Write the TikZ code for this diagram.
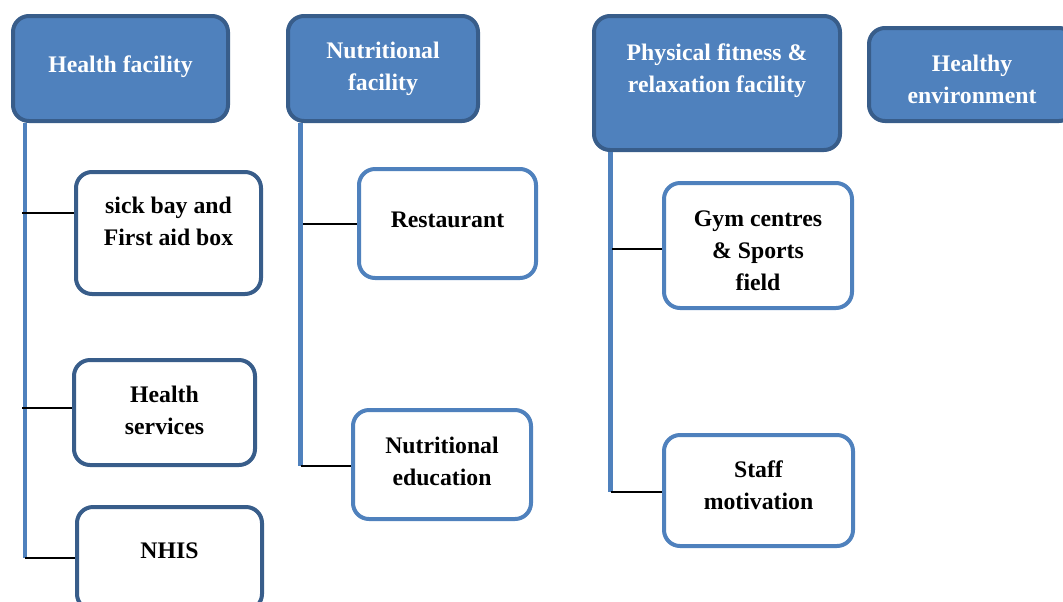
\documentclass[tikz,border=0pt]{standalone}
\usepackage{fontspec}
\setmainfont{Liberation Serif}
\definecolor{headfill}{HTML}{4F81BD}
\definecolor{headline}{HTML}{385D8A}
\tikzset{
  boxfont/.style={font=\bfseries\fontsize{17.8}{24}\selectfont},
  head/.style={boxfont, draw=headline, fill=headfill, line width=3pt, rounded corners=12pt,
    text=white, align=center, inner sep=0pt, text height=12pt, text depth=0pt},
  leaf/.style={boxfont, draw=headfill, fill=white, line width=3pt, rounded corners=12pt,
    align=center, inner sep=0pt, text height=12pt, text depth=0pt},
  darkleaf/.style={leaf, draw=headline},
  trunk/.style={draw=headfill, line width=3.6pt},
  twig/.style={draw=black, line width=1.1pt},
}
\begin{document}
\begin{tikzpicture}[x=0.75pt, y=-0.75pt]
    \useasboundingbox (0,0) rectangle (1063,601);
    \clip (0,0) rectangle (1063,601);

    % heading boxes
    \node[head, minimum width=161.25pt, minimum height=78.75pt, text depth=5.7pt] (health) at (120.5,68.5) {Health facility};
    \node[head, minimum width=142.5pt, minimum height=78.75pt, text height=32.25pt] (nutri) at (383,68.5) {Nutritional\\facility};
    \node[head, minimum width=184.5pt, minimum height=100.5pt, text height=13.5pt] (phys) at (717,83) {Physical fitness \&\\relaxation facility};
    \node[head, minimum width=154.5pt, minimum height=69.75pt, text height=42.75pt] (env) at (972,74.5) {Healthy\\environment};

    % items
    \node[darkleaf, minimum width=138.75pt, minimum height=91.5pt, text height=18.75pt] (sick) at (168.5,233) {sick bay and\\First aid box};
    \node[darkleaf, minimum width=135.75pt, minimum height=78.75pt, text height=32.25pt] (hserv) at (164.5,412.5) {Health\\services};
    \node[darkleaf, minimum width=138.75pt, minimum height=77.25pt, text depth=12.75pt] (nhis) at (169.5,558.5) {NHIS};
    \node[leaf, minimum width=132.75pt, minimum height=81.75pt, text depth=6.75pt] (rest) at (447.5,223.5) {Restaurant};
    \node[leaf, minimum width=133.5pt, minimum height=81.75pt, text height=30.75pt] (nedu) at (442,464.5) {Nutritional\\education};
    \node[leaf, minimum width=141pt, minimum height=93.75pt, text height=67.5pt] (gym) at (758,245.5) {Gym centres\\\& Sports\\field};
    \node[leaf, minimum width=141.75pt, minimum height=83.25pt, text height=27.75pt] (staff) at (758.5,490.5) {Staff\\motivation};

    % vertical lines
    \coordinate (hend) at (25,558);
    \coordinate (nend) at (300.5,466);
    \coordinate (pend) at (610.5,492);
    \draw[trunk] (health.south -| hend) -- (hend);
    \draw[trunk] (nutri.south -| nend) -- (nend);
    \draw[trunk] (phys.south -| pend) -- (pend);

    % branches
    \coordinate (h1) at (22,213);
    \coordinate (h2) at (22,408);
    \coordinate (n1) at (303,224);
    \coordinate (p1) at (612,249);
    \draw[twig] (h1) -- (h1 -| sick.west);
    \draw[twig] (h2) -- (h2 -| hserv.west);
    \draw[twig] (hend) -- (hend -| nhis.west);
    \draw[twig] (n1) -- (n1 -| rest.west);
    \draw[twig] (nend) -- (nend -| nedu.west);
    \draw[twig] (p1) -- (p1 -| gym.west);
    \draw[twig] (pend) -- (pend -| staff.west);
\end{tikzpicture}
\end{document}
